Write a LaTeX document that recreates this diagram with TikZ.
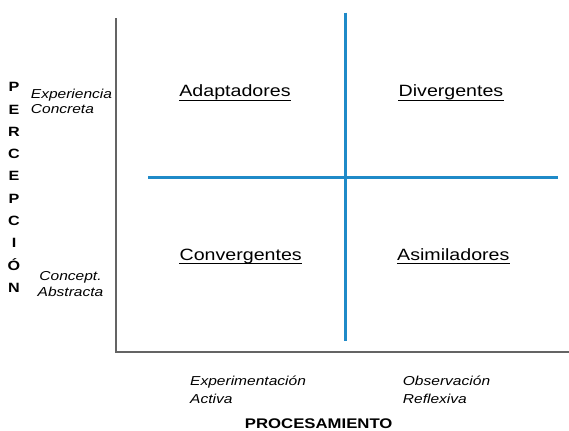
\documentclass[tikz,border=0pt]{standalone}
\usepackage{fontspec}
\setmainfont{Liberation Sans}[FakeStretch=1.2]
\definecolor{quadblue}{RGB}{31,138,200}
\definecolor{axisgray}{RGB}{100,100,100}
\tikzstyle{quad} = [inner sep=0pt, anchor=base, font=\fontsize{16.4}{19}\selectfont]
\tikzstyle{pole} = [inner sep=0pt, anchor=base west, align=left,
    font=\fontsize{13}{15}\selectfont\itshape]
\tikzstyle{letter} = [inner sep=0pt, anchor=base, font=\fontsize{13.5}{15}\selectfont\bfseries]
\tikzstyle{axis} = [draw=axisgray, line width=1.5pt]
\tikzstyle{cut} = [draw=quadblue, line width=3pt]
\tikzstyle{uline} = [draw=black, line width=0.8pt]

\begin{document}
\begin{tikzpicture}[x=1bp, y=-1bp]
    \useasboundingbox (0,0) rectangle (569,430);
    \draw [axis] (116,18) -- (116,352) -- (569,352);
    \draw [cut] (345,12.5) -- (345,341);
    \draw [cut] (148,177) -- (558,177);
    \node [quad] (adapt) at (235,96.3) {Adaptadores};
    \node [quad] (diverg) at (451,96.3) {Divergentes};
    \node [quad] (converg) at (240.7,260) {Convergentes};
    \node [quad] (asimil) at (453.3,260) {Asimiladores};
    \foreach \q in {adapt,diverg,converg,asimil}
        \draw [uline] ([shift={(0,3.7)}]\q.base west) -- ([shift={(0,3.7)}]\q.base east);
    \node [pole] (expconc) at (30.7,113.3) {Experiencia\\Concreta};
    \node [pole, align=center, anchor=base, font=\fontsize{13}{16.5}\selectfont\itshape]
        (concabs) at (70.5,296.7) {Concept.\\Abstracta};
    \node [pole, font=\fontsize{13}{18}\selectfont\itshape] (expact) at (190,403.3) {Experimentación\\Activa};
    \node [pole, font=\fontsize{13}{18}\selectfont\itshape] (obsref) at (402.7,403.3) {Observación\\Reflexiva};
    \node [inner sep=0pt, anchor=base, font=\fontsize{14}{16}\selectfont\bfseries]
        (proc) at (318.7,428.3) {PROCESAMIENTO};
    \foreach \l [count=\i from 0] in {P,E,R,C,E,P,C,I,Ó,N}
        \node [letter] (perc\i) at (14,91.7+22.3*\i) {\l};
\end{tikzpicture}
\end{document}
